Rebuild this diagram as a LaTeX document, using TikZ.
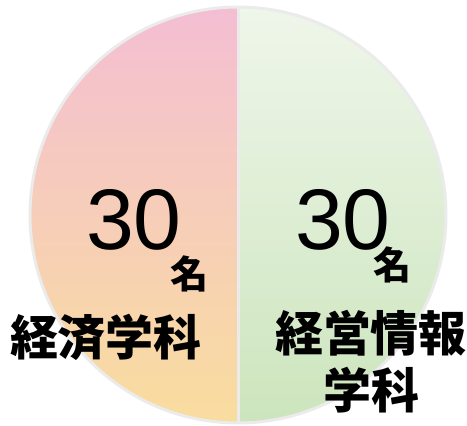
\documentclass[tikz,border=0pt]{standalone}
\usepackage{fontspec}
\newfontfamily\jpfont{Noto Sans CJK JP}
\newfontfamily\numfont{Liberation Sans}
\usetikzlibrary{positioning}
\definecolor{pinktop}{HTML}{F4BED3}
\definecolor{peachbot}{HTML}{F9DD9E}
\definecolor{greentop}{HTML}{EFF6EA}
\definecolor{greenbot}{HTML}{CCE5BD}
\definecolor{rimgray}{HTML}{EBEBEB}
\tikzstyle{count} = [inner sep=0pt, font=\numfont\fontsize{86}{86}\selectfont]
\tikzstyle{unit} = [inner sep=0pt, font=\jpfont\bfseries\fontsize{38}{38}\selectfont]
\tikzstyle{dept} = [inner sep=0pt, align=center, font=\jpfont\bfseries\fontsize{48}{57}\selectfont]
\tikzstyle{rim} = [line width=3pt, draw=rimgray]

\begin{document}
\begin{tikzpicture}[x=1pt, y=1pt]
\useasboundingbox (0,0) rectangle (467,426);

% Pie halves
\coordinate (centre) at (238,211);
\shade[top color=pinktop, bottom color=peachbot] (centre) -- ++(0,208) arc (90:270:208) -- cycle;
\shade[top color=greentop, bottom color=greenbot] (centre) -- ++(0,-208) arc (-90:90:208) -- cycle;

% Rim and divider
\draw[rim] (centre) circle (208);
\coordinate (top) at (238,419);
\coordinate (bottom) at (238,3);
\draw[rim] (top) -- (bottom);

% Left half labels
\node (econ-count) [count, anchor=base] at (134,176) {30};
\node (econ-unit) [unit] at (189,152) {名};
\node (econ-name) [dept] at (106,89) {経済学科};

% Right half labels
\node (mgmt-count) [count, anchor=base] at (343,176) {30};
\node (mgmt-unit) [unit] at (392,161) {名};
\node (mgmt-name) [dept] at (371,64) {経営情報\\学科};

\end{tikzpicture}
\end{document}
